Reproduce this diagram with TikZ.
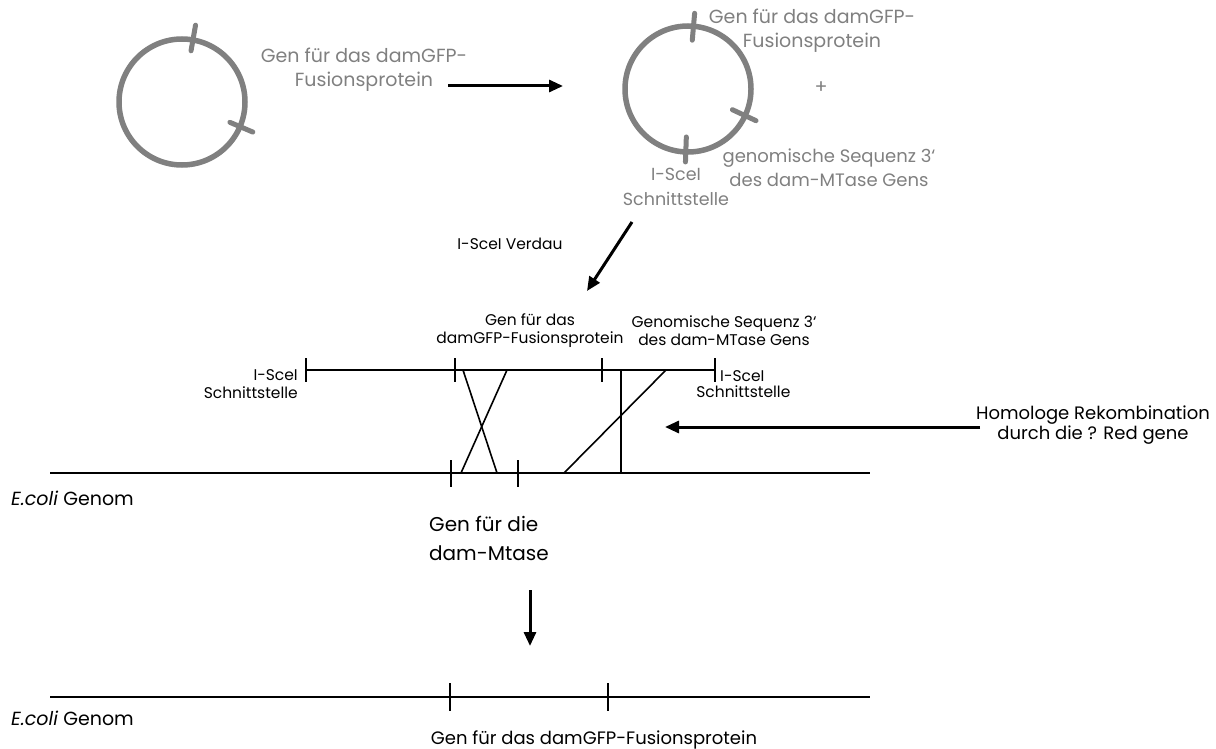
\documentclass[tikz,border=0pt]{standalone}
\usepackage{fontspec}
\setmainfont{Poppins}
\usetikzlibrary{arrows.meta,positioning,calc}
\definecolor{plasmidgray}{RGB}{128,128,128}
\tikzset{
    plasmid/.style={circle, draw=plasmidgray, line width=5.5pt, minimum size=126pt, inner sep=0pt},
    plasmidtick/.style={draw=plasmidgray, line width=5pt, line cap=round},
    graylabel/.style={text=plasmidgray, align=center, inner sep=0pt, font=\fontsize{19}{24}\selectfont},
    smalllabel/.style={align=center, inner sep=0pt, font=\fontsize{15.5}{18}\selectfont},
    biglabel/.style={align=center, inner sep=0pt, font=\fontsize{18}{20}\selectfont},
    bigarrow/.style={line width=3pt, -{Triangle[length=14pt,width=12pt]}},
    genome/.style={line width=2.6pt},
    fragment/.style={line width=1.6pt},
    site/.style={line width=1.6pt}
}

\begin{document}
\begin{tikzpicture}[x=1pt,y=-1pt]
    \useasboundingbox (0,0) rectangle (1216,749);

    % Plasmid without target sequence
    \node[plasmid] (plasA) at (182,102) {};
    \draw[plasmidtick] ($(plasA)+(80:52pt)$) -- ($(plasA)+(80:78pt)$);
    \draw[plasmidtick] ($(plasA)+(-23:52pt)$) -- ($(plasA)+(-23:77pt)$);
    \node[graylabel] (genA) at (364,70) {Gen f\"ur das damGFP-\\Fusionsprotein};

    % Cloning step
    \coordinate (cloneS) at (448,86);
    \coordinate (cloneE) at (563,86);
    \draw[bigarrow] (cloneS) -- (cloneE);

    % Plasmid with both sequences
    \node[plasmid] (plasB) at (688,89) {};
    \draw[plasmidtick] ($(plasB)+(85:49pt)$) -- ($(plasB)+(85:76pt)$);
    \draw[plasmidtick] ($(plasB)+(-92:48pt)$) -- ($(plasB)+(-92:73pt)$);
    \draw[plasmidtick] ($(plasB)+(-25:49pt)$) -- ($(plasB)+(-25:75pt)$);
    \node[graylabel] (genB) at (812,31) {Gen f\"ur das damGFP-\\Fusionsprotein};
    \node[graylabel] (plus) at (821,88) {+};
    \node[graylabel, font=\fontsize{18}{24}\selectfont] (seqB) at (829,168) {genomische Sequenz 3\symbol{"60}\\des dam-MTase Gens};
    \node[graylabel, font=\fontsize{17.5}{25}\selectfont] (siteB) at (676,187) {I-SceI\\Schnittstelle};

    % Digest
    \coordinate (digS) at (632,222);
    \coordinate (digE) at (587,291);
    \draw[bigarrow] (digS) -- (digE);
    \node[smalllabel] (digest) at (510,244) {I-SceI Verdau};

    % Linear fragment
    \coordinate (fragL) at (306,370);
    \coordinate (fragR) at (715,370);
    \draw[fragment] (fragL) -- (fragR);
    \foreach \x in {306,455,602,715} {
        \draw[site] (\x,358) -- (\x,382);
    }
    \node[smalllabel] (fragGen) at (530,331) {Gen f\"ur das\\damGFP-Fusionsprotein};
    \node[smalllabel] (fragSeq) at (724,331) {Genomische Sequenz 3\symbol{"60}\\des dam-MTase Gens};
    \node[smalllabel, anchor=north east, align=right] (siteL) at (298,369) {I-SceI\\Schnittstelle};
    \node[smalllabel, anchor=west] (siteR) at (720,376) {I-SceI};
    \node[smalllabel, below=4pt of siteR.south, xshift=1pt] (siteRb) {Schnittstelle};

    % Genome before recombination
    \coordinate (genomeL) at (50,473);
    \coordinate (genomeR) at (870,473);
    \draw[genome] (genomeL) -- (genomeR);
    \foreach \x in {451,518} {
        \draw[site] (\x,460) -- (\x,487);
    }
    \node[biglabel, anchor=west, font=\fontsize{19}{20}\selectfont] (ecoliA) at (11,498) {\textit{E.coli} Genom};
    \node[biglabel, anchor=north west, font=\fontsize{20}{29}\selectfont, align=left] (damA) at (429,516) {Gen f\"ur die\\dam-Mtase};

    % Crossover lines
    \draw[fragment] (463,370) -- (497,473);
    \draw[fragment] (507,370) -- (461,473);
    \draw[fragment] (621,370) -- (621,473);
    \draw[fragment] (666,370) -- (564,473);

    % Homologous recombination
    \node[biglabel] (recomb) at (1093,425) {Homologe Rekombination\\durch die ? Red gene};
    \coordinate (recS) at (980,427);
    \coordinate (recE) at (665,427);
    \draw[bigarrow] (recS) -- (recE);

    % Result
    \coordinate (resS) at (530,590);
    \coordinate (resE) at (530,646);
    \draw[bigarrow] (resS) -- (resE);

    % Genome after recombination
    \coordinate (genomeBL) at (50,697);
    \coordinate (genomeBR) at (870,697);
    \draw[genome] (genomeBL) -- (genomeBR);
    \foreach \x in {450,608} {
        \draw[site] (\x,683) -- (\x,711);
    }
    \node[biglabel, anchor=west, font=\fontsize{19}{20}\selectfont] (ecoliB) at (11,718) {\textit{E.coli} Genom};
    \node[biglabel, anchor=south] (damB) at (594,749) {Gen f\"ur das damGFP-Fusionsprotein};
\end{tikzpicture}
\end{document}
